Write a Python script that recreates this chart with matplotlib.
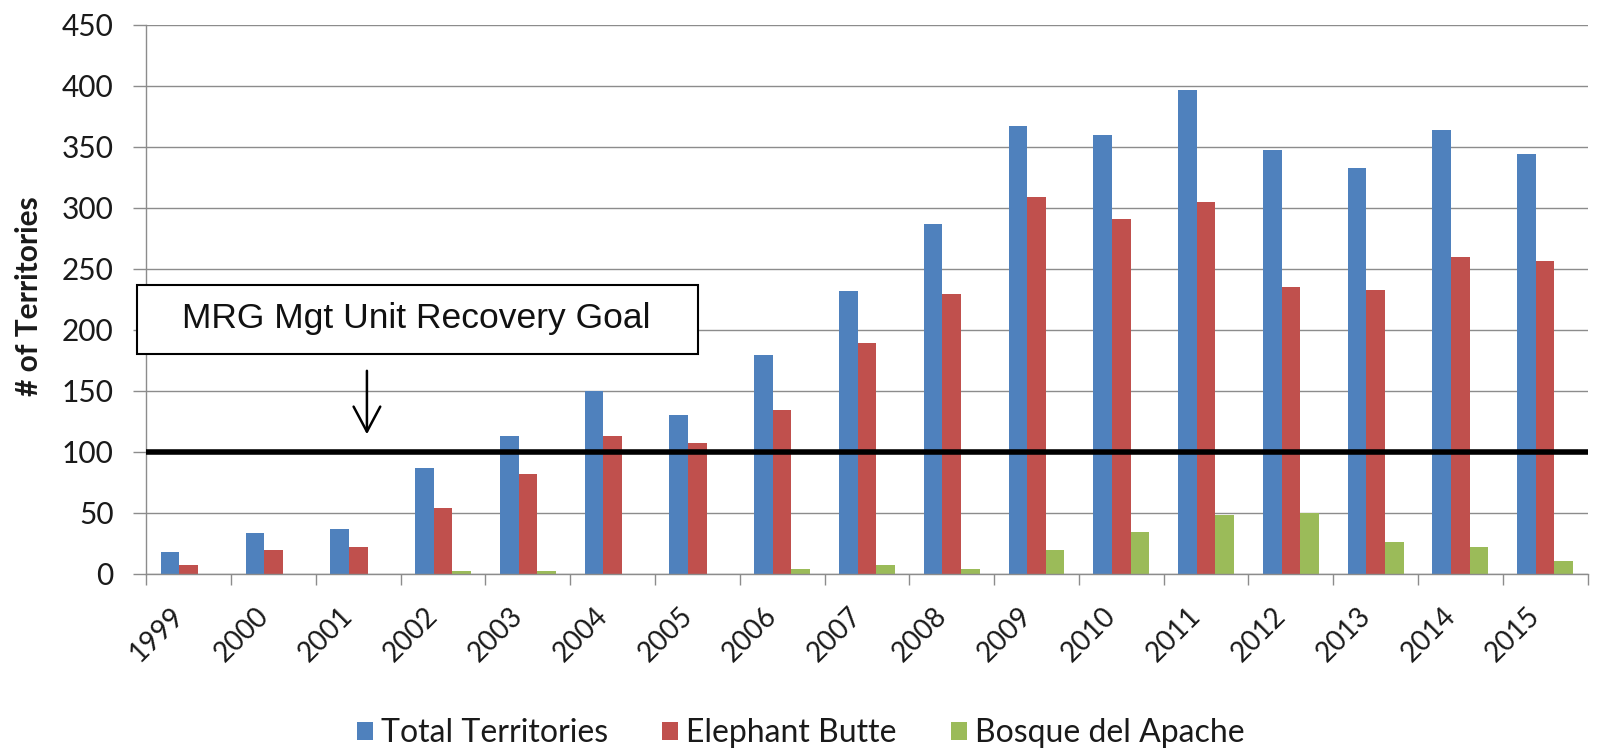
import matplotlib
matplotlib.use("Agg")
import matplotlib.pyplot as plt
import numpy as np
from matplotlib.patches import Rectangle, Patch

# Southwestern willow flycatcher territories, Middle Rio Grande
years = ["1999", "2000", "2001", "2002", "2003", "2004", "2005", "2006", "2007",
         "2008", "2009", "2010", "2011", "2012", "2013", "2014", "2015"]
total_territories = [18, 33, 37, 87, 113, 150, 130, 179, 232, 287, 367, 360, 397, 347, 333, 364, 344]
elephant_butte = [7, 19, 22, 54, 82, 113, 107, 134, 189, 229, 309, 291, 305, 235, 233, 260, 256]
bosque_del_apache = [0, 0, 0, 2, 2, 0, 0, 4, 7, 4, 19, 34, 48, 50, 26, 22, 10]
series_names = ["Total Territories", "Elephant Butte", "Bosque del Apache"]
recovery_goal = 100
y_ticks = list(range(0, 451, 50))

colors = ["#4F81BD", "#C0504D", "#9BBB59"]
grid_color = "#8C8C8C"
text_color = "#1A1A1A"
tick_font = "Lato"

fig = plt.figure(figsize=(16.01, 7.52), dpi=100)
ax = fig.add_axes([0.0914, 0.2372, 0.9002, 0.7297])

x = np.arange(len(years))
width = 0.22
for i, (vals, name) in enumerate(zip([total_territories, elephant_butte, bosque_del_apache], series_names)):
    ax.bar(x + (i - 1) * width, vals, width=width, color=colors[i], label=name, zorder=2, linewidth=0)

ax.set_xlim(-0.5, len(years) - 0.5)
ax.set_ylim(0, 450)

# horizontal grid and axes styling
ax.set_yticks(y_ticks)
ax.yaxis.grid(True, color=grid_color, linewidth=1.0, zorder=0)
ax.set_axisbelow(True)
for side in ("top", "right"):
    ax.spines[side].set_visible(False)
for side in ("left", "bottom"):
    ax.spines[side].set_color(grid_color)
    ax.spines[side].set_linewidth(1.0)

ax.tick_params(axis="y", direction="out", length=9.6, width=1.0, color=grid_color,
               pad=14, labelsize=21.5, labelcolor=text_color)
for lbl in ax.get_yticklabels():
    lbl.set_fontfamily(tick_font)

# year labels centred under groups, tick marks between groups
ax.set_xticks(x)
ax.set_xticklabels(years, rotation=45, ha="right", va="top", fontsize=20,
                   family=tick_font, color=text_color)
ax.tick_params(axis="x", which="major", length=0, pad=21)
ax.set_xticks(np.arange(-0.5, len(years), 1.0), minor=True)
ax.tick_params(axis="x", which="minor", direction="out", length=8, width=1.0, color=grid_color)

# recovery goal line
ax.axhline(recovery_goal, color="black", linewidth=4.0, zorder=3)

# goal annotation box and arrow
box = Rectangle((-0.614, 180.1), 6.62, 56.6, facecolor="white", edgecolor="black",
                linewidth=1.5, zorder=4, clip_on=False)
ax.add_patch(box)
ax.text(-0.084, 209.0, "MRG Mgt Unit Recovery Goal", fontsize=25.5,
        family="Liberation Sans", color="#111111", va="center", ha="left", zorder=5)
ax.annotate("", xy=(2.102, 112), xytext=(2.102, 168.6),
            arrowprops=dict(arrowstyle="->,head_length=0.9,head_width=0.48",
                            color="black", linewidth=1.8, mutation_scale=20),
            zorder=5)

fig.text(28.6 / 1601, 1 - 296 / 752, "# of Territories", rotation=90, fontsize=21.5,
         fontweight="bold", family=tick_font, color=text_color, ha="center", va="center")

handles = [Patch(facecolor=c, edgecolor="none") for c in colors]
leg = fig.legend(handles, series_names, loc="center", bbox_to_anchor=(0.5, 1 - 733 / 752),
                 ncol=3, frameon=False, handlelength=0.5, handleheight=0.5,
                 handletextpad=0.25, columnspacing=1.7,
                 prop={"family": tick_font, "size": 23})
for t in leg.get_texts():
    t.set_color(text_color)

fig.savefig("out.png", dpi=100)
